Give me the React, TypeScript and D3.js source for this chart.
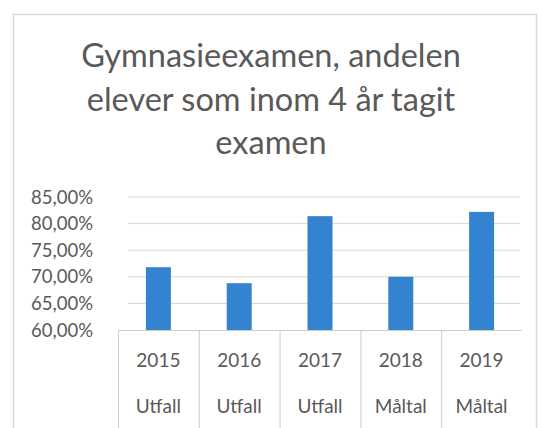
import React from "react";
import * as d3 from "d3";

const years = ["2015", "2016", "2017", "2018", "2019"];
const kinds = ["Utfall", "Utfall", "Utfall", "Måltal", "Måltal"];
const values = [71.8, 68.8, 81.4, 70.0, 82.2];
const yTicks = [60, 65, 70, 75, 80, 85];
const titleLines = ["Gymnasieexamen, andelen", "elever som inom 4 år tagit", "examen"];

const W = 543;
const H = 428;
const font = "Lato, 'Open Sans', sans-serif";
const textColor = "#595959";

export default function App() {
  const x = d3.scaleBand<string>().domain(years).range([118, 522]).paddingInner(0).paddingOuter(0);
  const y = d3.scaleLinear().domain([60, 85]).range([330, 197]);
  const barW = 25;
  const fmt = (v: number) => v.toFixed(2).replace(".", ",") + "%";

  return (
    <svg width={W} height={H} style={{ position: "absolute", left: 0, top: 0, background: "#fff" }}>
      <rect x={13.5} y={14.5} width={523} height={430} fill="#fff" stroke="#d9d9d9" strokeWidth={1.5} />
      {titleLines.map((t, i) => (
        <text key={i} x={271} y={67 + i * 43.5} textAnchor="middle" fontFamily={font} fontSize={32.5} fill={textColor}>
          {t}
        </text>
      ))}
      {yTicks.map((v) => (
        <g key={v}>
          {v !== 60 && <line x1={128} x2={520} y1={y(v)} y2={y(v)} stroke="#d9d4ce" strokeWidth={1} />}
          <text x={93} y={y(v)} dy="0.36em" textAnchor="end" fontFamily={font} fontSize={18.5} fill={textColor}>
            {fmt(v)}
          </text>
        </g>
      ))}
      {years.map((yr, i) => (
        <rect
          key={yr}
          x={(x(yr) as number) + x.bandwidth() / 2 - barW / 2}
          y={y(values[i])}
          width={barW}
          height={y(60) - y(values[i])}
          fill="#3483d0"
        />
      ))}
      <line x1={118} x2={522} y1={330.5} y2={330.5} stroke="#d0ccc8" strokeWidth={1} />
      {years.map((yr) => (
        <line key={"d" + yr} x1={(x(yr) as number) + 0.5} x2={(x(yr) as number) + 0.5} y1={330} y2={428} stroke="#d0ccc8" strokeWidth={1} />
      ))}
      {years.map((yr, i) => (
        <g key={"l" + yr}>
          <text x={(x(yr) as number) + x.bandwidth() / 2} y={367} textAnchor="middle" fontFamily={font} fontSize={19} fill={textColor}>
            {yr}
          </text>
          <text x={(x(yr) as number) + x.bandwidth() / 2} y={413} textAnchor="middle" fontFamily={font} fontSize={19} fill={textColor}>
            {kinds[i]}
          </text>
        </g>
      ))}
    </svg>
  );
}
